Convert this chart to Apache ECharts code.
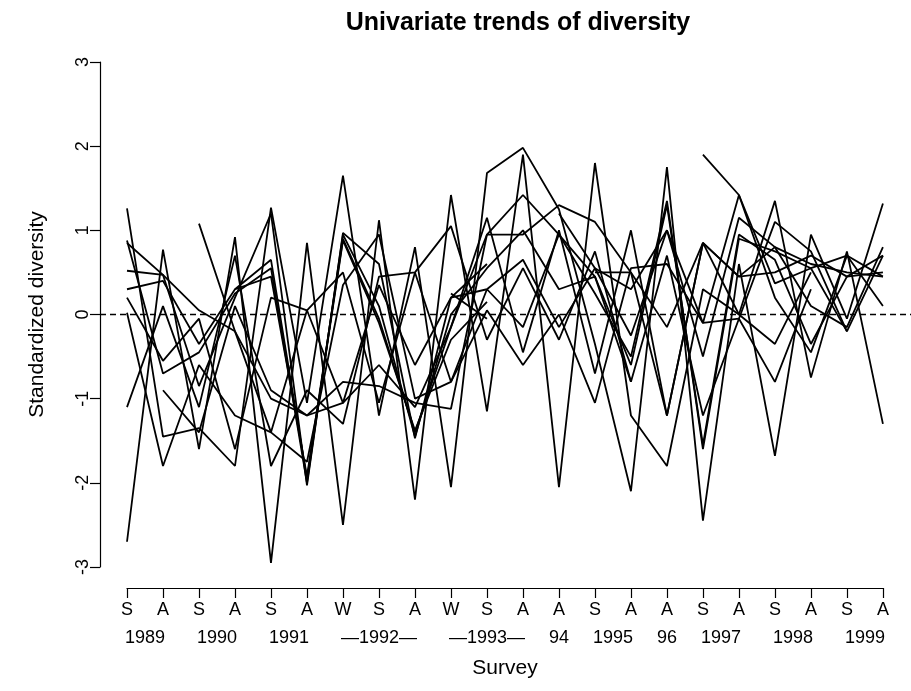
<!DOCTYPE html>
<html>
<head>
<meta charset="utf-8">
<script src="https://cdn.jsdelivr.net/npm/echarts@6/dist/echarts.min.js"></script>
<style>
html,body{margin:0;padding:0;background:#fff;}
#c{width:911px;height:691px;}
</style>
</head>
<body>
<div id="c"></div>
<script>
// Survey codes (22 surveys) and year labels
var surveyCodes = ['S','A','S','A','S','A','W','S','A','W','S','A','A','S','A','A','S','A','S','A','S','A'];
var yearLabels = ['1989','1990','1991','\u20141992\u2014','\u20141993\u2014','94','1995','96','1997','1998','1999'];
var yearPositions = [0.5, 2.5, 4.5, 7, 10, 12, 13.5, 15, 16.5, 18.5, 20.5];
var yTicks = [-3,-2,-1,0,1,2,3];

// Standardized diversity per survey (null = not sampled)
var s01 = [0.88,-0.70,-0.45,0.25,0.55,-2.00,0.95,0.10,-1.45,0.00,0.55,1.00,0.30,0.45,-0.60,1.30,-1.55,0.95,0.65,-0.35,0.45,0.70];
var s02 = [0.30,0.40,-0.35,0.30,0.45,-1.92,0.90,-0.05,-1.40,-0.15,0.95,1.42,0.95,0.25,-0.50,1.35,-1.60,0.90,0.75,0.55,0.70,0.45];
var s03 = [0.85,0.47,-0.85,0.20,1.20,-2.03,0.97,0.60,-1.47,0.20,0.30,0.65,-0.15,0.55,0.30,1.00,-0.50,1.15,0.80,0.10,-0.15,0.80];
var s04 = [1.26,-1.45,-1.35,-1.80,1.27,-1.05,1.65,-1.20,0.80,-2.05,1.68,1.98,1.25,-0.35,-2.10,1.75,-2.45,0.60,-1.68,0.95,-0.05,1.32];
var s05 = [-2.70,0.77,-1.60,0.92,-2.95,0.85,-2.50,1.12,-2.20,1.42,-1.15,1.90,-2.05,1.80,-1.20,-1.80,0.30,0.00,1.35,-0.75,0.75,-1.30];
var s06 = [0.52,0.47,0.05,-0.20,-1.00,-1.20,-0.80,-0.85,-1.05,-1.12,0.95,0.95,1.30,1.10,0.50,-0.15,0.85,0.45,0.50,0.70,0.45,0.50];
var s07 = [0.02,-1.80,-0.60,-1.20,-1.40,-1.75,0.35,0.95,-1.00,-0.80,0.05,-0.60,0.00,-1.05,0.55,0.60,-0.10,1.42,0.20,-0.45,0.70,0.10];
var s08 = [-1.10,0.10,-1.10,0.70,-1.80,-0.90,-1.30,0.45,0.50,1.05,-0.30,0.55,-0.30,0.75,-0.80,0.70,-1.20,-0.05,1.10,0.75,-0.20,0.70];
var s09 = [0.20,-0.55,-0.05,-1.60,0.20,0.05,-1.05,-0.60,-1.10,-0.15,1.15,-0.45,1.00,-0.70,1.00,-1.20,0.85,0.00,-0.35,0.50,null,null];
var s10 = [null,null,1.08,-0.20,-1.40,0.05,0.50,-1.05,0.50,-0.80,0.30,-0.15,0.95,0.45,-0.80,null,null,null,null,null,null,null];
var s11 = [null,null,null,null,null,null,null,null,null,null,null,null,null,null,null,null,1.90,1.42,0.37,0.55,-0.20,null];
var s12 = [null,null,null,null,null,null,null,null,null,0.25,-0.05,null,null,null,null,null,null,null,null,null,null,null];
var s13 = [null,null,null,null,null,null,null,null,null,null,null,null,1.20,0.55,-0.25,1.00,-0.10,-0.05,-0.80,0.30,null,null];
var s14 = [null,-0.90,-1.40,0.10,-0.90,-1.20,-1.05,0.35,-0.60,0.20,0.60,null,null,null,null,null,null,null,null,null,null,null];
var s15 = [null,null,null,null,null,null,null,null,null,null,null,null,null,0.50,0.50,-1.20,0.85,0.45,0.80,0.60,0.50,0.45];
var s16 = [null,null,null,0.30,0.65,-1.96,0.88,-0.10,-1.38,-0.30,0.15,null,null,null,null,null,null,null,null,null,null,null];
var seriesValues = [s01,s02,s03,s04,s05,s06,s07,s08,s09,s10,s11,s12,s13,s14,s15,s16];

var chart = echarts.init(document.getElementById('c'), null, {renderer:'canvas'});
var FONT = 'Liberation Sans, Arial, sans-serif';

var lineSeries = seriesValues.map(function(arr, k){
  return {
    type:'line', xAxisIndex:0, yAxisIndex:0,
    data: arr.map(function(v,i){ return [i, v]; }),
    showSymbol:false, connectNulls:false, silent:true,
    lineStyle:{color:'#000', width:1.8},
    markLine: k === 0 ? {
      silent:true, symbol:'none', label:{show:false},
      lineStyle:{color:'#000', type:[6,4], width:1.3},
      data:[{yAxis:0}]
    } : undefined
  };
});

chart.setOption({
  animation:false,
  backgroundColor:'#fff',
  title:{
    text:'Univariate trends of diversity', left:513, top:6, textAlign:'center',
    textStyle:{fontFamily:FONT, fontWeight:'bold', fontSize:25, color:'#000'}
  },
  grid:[
    {left:100, right:0, top:62, height:505},
    {left:127, width:756, top:62, height:526}
  ],
  xAxis:[
    {gridIndex:0, type:'value', min:-0.75, max:21.78, show:false},
    {gridIndex:1, type:'value', min:0, max:21, interval:1, position:'bottom',
     axisLine:{show:true, onZero:false, lineStyle:{color:'#000', width:1.2}},
     axisTick:{show:true, length:10, lineStyle:{color:'#000', width:1.2}},
     splitLine:{show:false},
     axisLabel:{margin:13, fontFamily:FONT, fontSize:18, color:'#000',
       formatter:function(v){ return surveyCodes[Math.round(v)] || ''; }},
     name:'Survey', nameLocation:'middle', nameGap:70,
     nameTextStyle:{fontFamily:FONT, fontSize:21, color:'#000'}
    },
    {gridIndex:1, type:'value', min:0, max:21, position:'bottom',
     axisLine:{show:false, onZero:false}, axisTick:{show:false}, splitLine:{show:false},
     axisLabel:{margin:41, fontFamily:FONT, fontSize:18, color:'#000',
       customValues:yearPositions,
       formatter:function(v){ var i = yearPositions.indexOf(v); return i>=0 ? yearLabels[i] : ''; }}
    }
  ],
  yAxis:[
    {gridIndex:0, type:'value', min:-3, max:3, interval:1,
     axisLine:{show:true, onZero:false, lineStyle:{color:'#000', width:1.2}},
     axisTick:{show:true, length:10, lineStyle:{color:'#000', width:1.2}},
     splitLine:{show:false},
     axisLabel:{rotate:90, margin:8, fontFamily:FONT, fontSize:18, color:'#000',
       formatter:function(v){ return yTicks.indexOf(v)>=0 ? String(v) : ''; }},
     name:'Standardized diversity', nameLocation:'middle', nameGap:52,
     nameTextStyle:{fontFamily:FONT, fontSize:21, color:'#000'}
    },
    {gridIndex:1, type:'value', min:0, max:1, show:false}
  ],
  series: lineSeries
});
</script>
</body>
</html>
